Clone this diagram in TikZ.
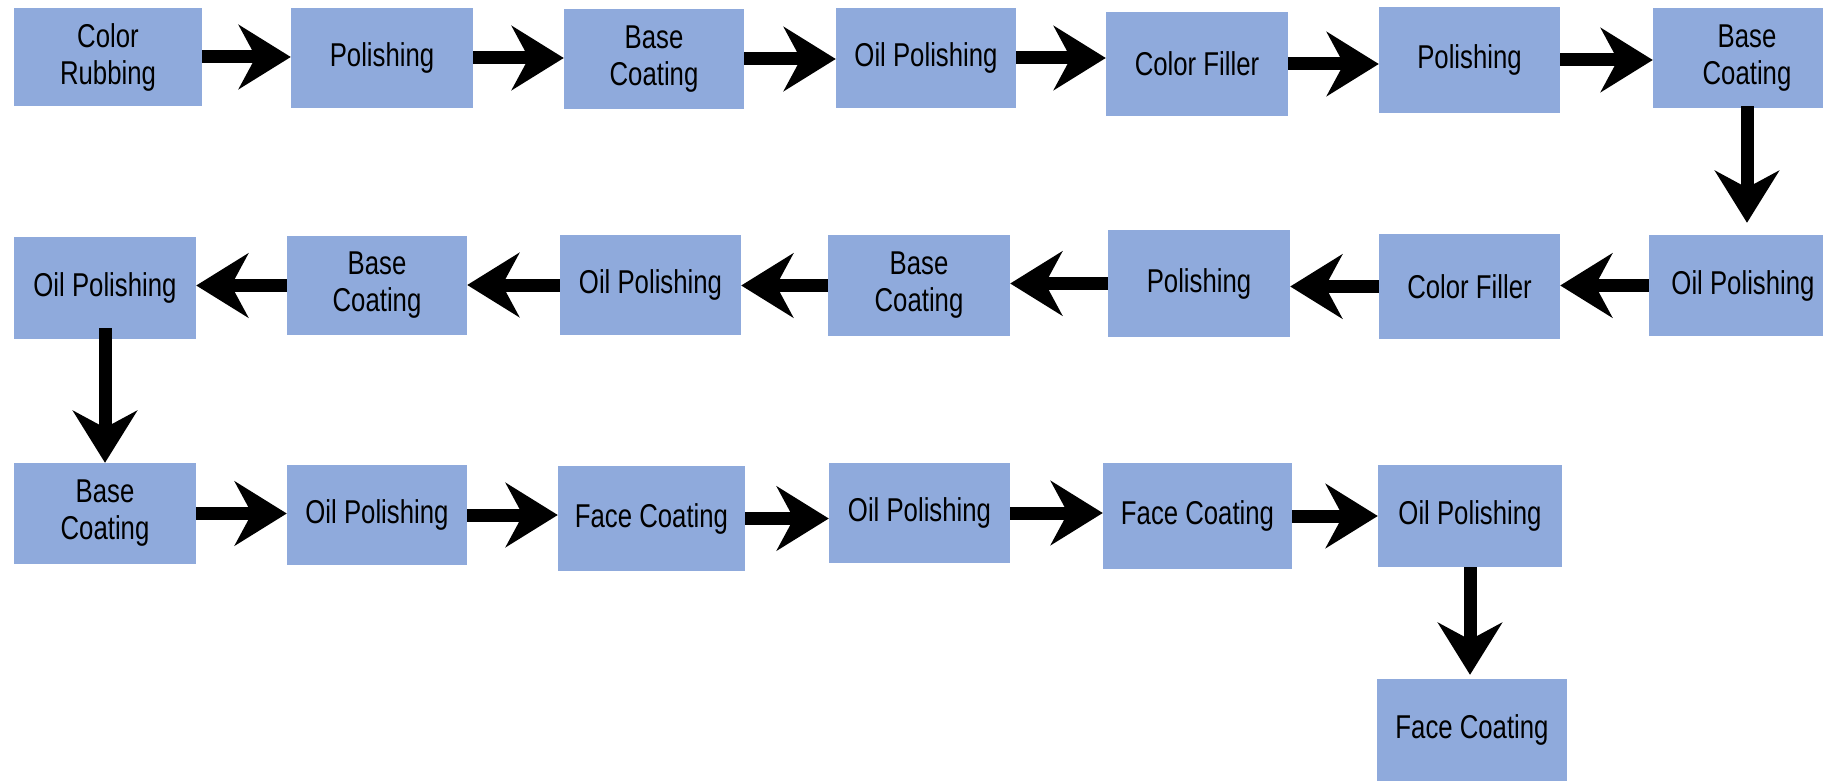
\documentclass[tikz,border=0pt]{standalone}
\usepackage{fontspec}
\setmainfont[FakeStretch=0.78]{Liberation Sans}
\usetikzlibrary{arrows.meta}
\definecolor{boxblue}{HTML}{8FAADC}
\begin{document}
\begin{tikzpicture}[x=1pt,y=-1pt,
  box/.style={fill=boxblue, inner sep=0pt, align=center, text=black,
    font=\fontsize{33pt}{37pt}\selectfont},
  flow/.style={line width=13pt, -{Stealth[length=52pt,width=64pt,inset=17pt]}}]
\useasboundingbox (0,0) rectangle (1823,781);
\fill[white] (0,0) rectangle (1823,781);
% row 1
\node[box,minimum width=188pt,minimum height=98pt]  (a1) at (108,57)    {Color\\Rubbing};
\node[box,minimum width=182pt,minimum height=100pt] (a2) at (382,58)    {Polishing};
\node[box,minimum width=180pt,minimum height=100pt] (a3) at (654,59)    {Base\\Coating};
\node[box,minimum width=180pt,minimum height=100pt] (a4) at (926,58)    {Oil Polishing};
\node[box,minimum width=182pt,minimum height=104pt] (a5) at (1197,64)   {Color Filler};
\node[box,minimum width=181pt,minimum height=106pt] (a6) at (1469.5,60) {Polishing};
\node[box,minimum width=188pt,minimum height=100pt] (a7) at (1747,58)   {Base\\Coating};
% row 2
\node[box,minimum width=188pt,minimum height=101pt] (b1) at (1743,285.5)   {Oil Polishing};
\node[box,minimum width=181pt,minimum height=105pt] (b2) at (1469.5,286.5) {Color Filler};
\node[box,minimum width=182pt,minimum height=107pt] (b3) at (1199,283.5)   {Polishing};
\node[box,minimum width=182pt,minimum height=101pt] (b4) at (919,285.5)    {Base\\Coating};
\node[box,minimum width=181pt,minimum height=100pt] (b5) at (650.5,285)    {Oil Polishing};
\node[box,minimum width=180pt,minimum height=99pt]  (b6) at (377,285.5)    {Base\\Coating};
\node[box,minimum width=182pt,minimum height=102pt] (b7) at (105,288)      {Oil Polishing};
% row 3
\node[box,minimum width=182pt,minimum height=101pt] (c1) at (105,513.5)    {Base\\Coating};
\node[box,minimum width=180pt,minimum height=100pt] (c2) at (377,515)      {Oil Polishing};
\node[box,minimum width=187pt,minimum height=105pt] (c3) at (651.5,518.5)  {Face Coating};
\node[box,minimum width=181pt,minimum height=100pt] (c4) at (919.5,513)    {Oil Polishing};
\node[box,minimum width=189pt,minimum height=106pt] (c5) at (1197.5,516)   {Face Coating};
\node[box,minimum width=184pt,minimum height=102pt] (c6) at (1470,516)     {Oil Polishing};
\node[box,minimum width=190pt,minimum height=102pt] (c7) at (1472,730)     {Face Coating};
% arrows row 1
\foreach \p/\q in {a1/a2,a2/a3,a3/a4,a4/a5,a5/a6,a6/a7}
  \draw[flow] (\p.east) -- (\p.east -| \q.west);
% down
\draw[flow, shorten >=12pt] ([yshift=2pt]a7.south) -- (a7.south |- b1.north);
% arrows row 2
\foreach \p/\q in {b1/b2,b2/b3,b3/b4,b4/b5,b5/b6,b6/b7}
  \draw[flow] (\p.west) -- (\p.west -| \q.east);
\draw[flow] ([yshift=11pt]b7.south) -- (b7.south |- c1.north);
% arrows row 3
\foreach \p/\q in {c1/c2,c2/c3,c3/c4,c4/c5,c5/c6}
  \draw[flow] (\p.east) -- (\p.east -| \q.west);
\draw[flow, shorten >=4pt] (c6.south) -- (c6.south |- c7.north);
\end{tikzpicture}
\end{document}
